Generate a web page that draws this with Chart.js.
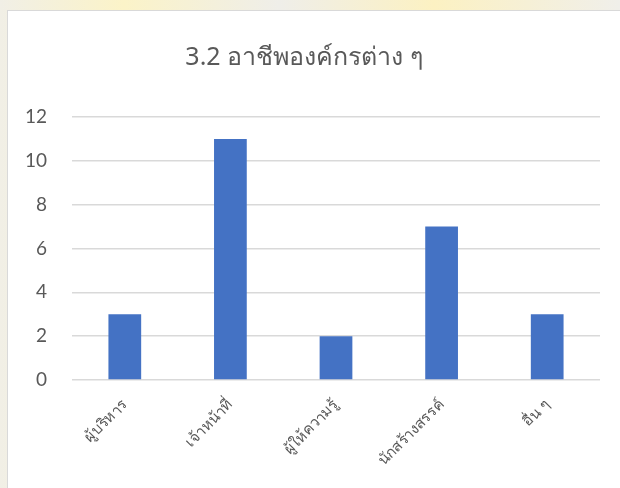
<!DOCTYPE html>
<html>
<head>
<meta charset="utf-8">
<script src="https://cdn.jsdelivr.net/npm/chart.js@4"></script>
<style>
  html, body { margin: 0; padding: 0; }
  body {
    width: 620px; height: 488px; overflow: hidden;
    background: linear-gradient(90deg, #f1efe6 0%, #fbf3c8 20%, #efeee9 45%, #fcf1c2 70%, #f0efea 100%);
    position: relative;
  }
  .frame {
    position: absolute; left: 7px; top: 10px; width: 640px; height: 500px;
    background: #fff; border: 1px solid #d9d9d9;
  }
  .box { position: absolute; left: 0; top: 0; width: 612px; height: 477px; }
</style>
</head>
<body>
<div class="frame">
  <div class="box"><canvas id="chart"></canvas></div>
</div>
<script>
// ข้อมูล
const categories = ['ผู้บริหาร', 'เจ้าหน้าที่', 'ผู้ให้ความรู้', 'นักสร้างสรรค์', 'อื่น ๆ'];
const counts = [3, 11, 2, 7, 3];
const chartTitle = '3.2 อาชีพองค์กรต่าง ๆ';
const yMax = 12;
const yStep = 2;

const textColor = '#595959';
const gridColor = '#d9d9d9';
const barColor = '#4472c4';

new Chart(document.getElementById('chart').getContext('2d'), {
    type: 'bar',
    data: {
        labels: categories,
        datasets: [{
            data: counts,
            backgroundColor: barColor,
            categoryPercentage: 1,
            barPercentage: 0.31
        }]
    },
    options: {
        responsive: true,
        maintainAspectRatio: false,
        animation: false,
        layout: { padding: { left: 0, right: 20, top: 0, bottom: 0 } },
        plugins: {
            legend: { display: false },
            tooltip: { enabled: false },
            title: {
                display: true,
                text: chartTitle,
                color: textColor,
                font: { family: "'Noto Sans', 'DejaVu Sans', sans-serif", size: 25, weight: 'normal' },
                padding: { top: 32, bottom: 44 }
            }
        },
        scales: {
            x: {
                grid: { display: false },
                border: { display: false },
                ticks: {
                    color: textColor,
                    font: { family: "'Noto Sans', 'DejaVu Sans', sans-serif", size: 15 },
                    maxRotation: 45,
                    minRotation: 45,
                    padding: 8
                },
                afterFit: function(axis) { axis.height = 108; }
            },
            y: {
                min: 0,
                max: yMax,
                grid: { color: gridColor, lineWidth: 1.5, drawTicks: false },
                border: { display: false },
                ticks: {
                    stepSize: yStep,
                    color: textColor,
                    font: { family: "Lato, 'Open Sans', sans-serif", size: 19 },
                    padding: 25
                },
                afterFit: function(axis) { axis.width = 64; }
            }
        }
    }
});
</script>
</body>
</html>
